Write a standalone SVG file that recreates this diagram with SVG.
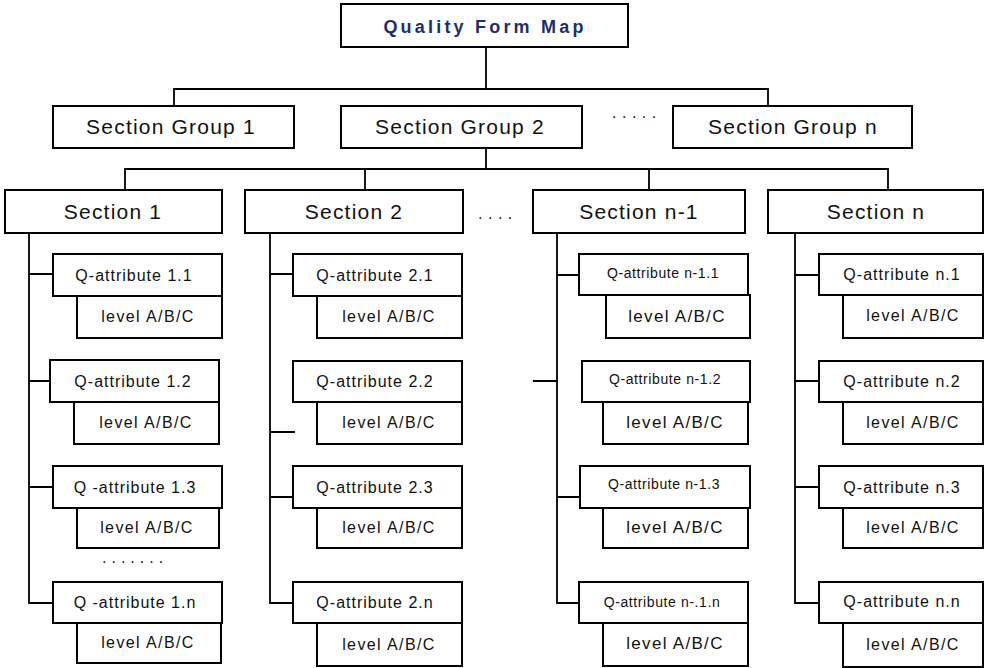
<svg xmlns="http://www.w3.org/2000/svg" width="988" height="668" viewBox="0 0 988 668">
<style>
rect{fill:#fff;stroke:#000;stroke-width:2}
.c line,.c path{stroke:#000;stroke-width:1.8;fill:none}
text{font-family:"Liberation Sans",Arial,sans-serif;fill:#111;text-anchor:middle}
.t{font-size:18px;font-weight:bold;letter-spacing:3.2px;fill:#1b2f6e}
.g{font-size:21px;letter-spacing:1.2px}
.s{font-size:21px;letter-spacing:1.2px}
.q{font-size:16px;letter-spacing:1px}
.qs{font-size:14px;letter-spacing:0.6px}
.l{font-size:16px;letter-spacing:1.4px}
.lb{font-size:17px;letter-spacing:1.3px}
.d{font-size:16px;letter-spacing:5.5px;text-anchor:start}
</style>
<g class="c" id="connectors">
<path d="M486,47V89M174,106V89H768V106"/>
<path d="M486,148V169M125,190V169H888V190M365,169V190M649,169V190"/>
<path d="M29,233V603H53M29,274H53M29,381H52M29,487H53"/>
<path d="M270,233V603H293M270,274H293M270,432H295M270,497H293"/>
<path d="M557,233V603H579M557,275H579M533,381H557M557,497H580"/>
<path d="M795,233V603H819M795,275H819M795,381H819M795,487H819"/>
</g>
<g id="title"><rect x="341" y="4" width="287" height="43"/><text class="t" x="485" y="33">Quality Form Map</text></g>
<g id="sg1"><rect x="53" y="106" width="241" height="42"/><text class="g" x="171" y="134">Section Group 1</text></g>
<g id="sg2"><rect x="341" y="106" width="241" height="42"/><text class="g" x="460" y="134">Section Group 2</text></g>
<g id="sgn"><rect x="673" y="106" width="239" height="42"/><text class="g" x="793" y="134">Section Group n</text></g>
<text class="d" x="612" y="118">.....</text>
<g id="sec1"><rect x="5" y="190" width="217" height="43"/><text class="s" x="113" y="219">Section 1</text></g>
<g id="sec2"><rect x="245" y="190" width="218" height="43"/><text class="s" x="354" y="219">Section 2</text></g>
<g id="secn1"><rect x="533" y="190" width="212" height="43"/><text class="s" x="639" y="219">Section n-1</text></g>
<g id="secn"><rect x="768" y="190" width="215" height="43"/><text class="s" x="876" y="219">Section n</text></g>
<text class="d" x="478" y="219">....</text>

<g id="q1-1"><rect x="53" y="254" width="169" height="42"/><text class="q" x="134" y="281">Q-attribute 1.1</text><rect x="77" y="296" width="145" height="42"/><text class="l" x="148" y="322">level A/B/C</text></g>
<g id="q1-2"><rect x="50" y="360" width="169" height="42"/><text class="q" x="133" y="387">Q-attribute 1.2</text><rect x="74" y="402" width="145" height="42"/><text class="l" x="146" y="428">level A/B/C</text></g>
<g id="q1-3"><rect x="53" y="466" width="169" height="42"/><text class="q" x="135" y="493">Q -attribute 1.3</text><rect x="77" y="508" width="142" height="40"/><text class="l" x="147" y="533">level A/B/C</text></g>
<text class="d" x="102" y="563" style="letter-spacing:5px">.......</text>
<g id="q1-n"><rect x="53" y="582" width="169" height="41"/><text class="q" x="135" y="608">Q -attribute 1.n</text><rect x="77" y="623" width="144" height="40"/><text class="l" x="148" y="648">level A/B/C</text></g>

<g id="q2-1"><rect x="293" y="254" width="169" height="42"/><text class="q" x="375" y="281">Q-attribute 2.1</text><rect x="317" y="296" width="145" height="42"/><text class="l" x="389" y="322">level A/B/C</text></g>
<g id="q2-2"><rect x="293" y="361" width="169" height="41"/><text class="q" x="375" y="387">Q-attribute 2.2</text><rect x="317" y="402" width="145" height="42"/><text class="l" x="389" y="428">level A/B/C</text></g>
<g id="q2-3"><rect x="293" y="466" width="169" height="42"/><text class="q" x="375" y="493">Q-attribute 2.3</text><rect x="317" y="508" width="145" height="40"/><text class="l" x="389" y="533">level A/B/C</text></g>
<g id="q2-n"><rect x="293" y="582" width="169" height="41"/><text class="q" x="375" y="608">Q-attribute 2.n</text><rect x="317" y="623" width="145" height="43"/><text class="l" x="389" y="650">level A/B/C</text></g>

<g id="qn1-1"><rect x="579" y="254" width="169" height="41"/><text class="qs" x="663" y="278">Q-attribute n-1.1</text><rect x="606" y="295" width="144" height="43"/><text class="lb" x="677" y="322">level A/B/C</text></g>
<g id="qn1-2"><rect x="582" y="361" width="168" height="41"/><text class="qs" x="665" y="384">Q-attribute n-1.2</text><rect x="603" y="402" width="145" height="42"/><text class="lb" x="675" y="428">level A/B/C</text></g>
<g id="qn1-3"><rect x="580" y="466" width="170" height="42"/><text class="qs" x="664" y="489">Q-attribute n-1.3</text><rect x="603" y="508" width="145" height="40"/><text class="lb" x="675" y="533">level A/B/C</text></g>
<g id="qn1-n"><rect x="579" y="582" width="169" height="41"/><text class="qs" x="662" y="607">Q-attribute n-.1.n</text><rect x="603" y="623" width="145" height="43"/><text class="lb" x="675" y="649">level A/B/C</text></g>

<g id="qn-1"><rect x="819" y="254" width="164" height="41"/><text class="q" x="902" y="280">Q-attribute n.1</text><rect x="843" y="295" width="140" height="43"/><text class="l" x="913" y="321">level A/B/C</text></g>
<g id="qn-2"><rect x="819" y="361" width="164" height="41"/><text class="q" x="902" y="387">Q-attribute n.2</text><rect x="843" y="402" width="140" height="42"/><text class="l" x="913" y="428">level A/B/C</text></g>
<g id="qn-3"><rect x="819" y="466" width="164" height="42"/><text class="q" x="902" y="493">Q-attribute n.3</text><rect x="843" y="508" width="140" height="40"/><text class="l" x="913" y="533">level A/B/C</text></g>
<g id="qn-n"><rect x="819" y="582" width="164" height="41"/><text class="q" x="902" y="607">Q-attribute n.n</text><rect x="843" y="623" width="140" height="44"/><text class="l" x="913" y="650">level A/B/C</text></g>
</svg>
